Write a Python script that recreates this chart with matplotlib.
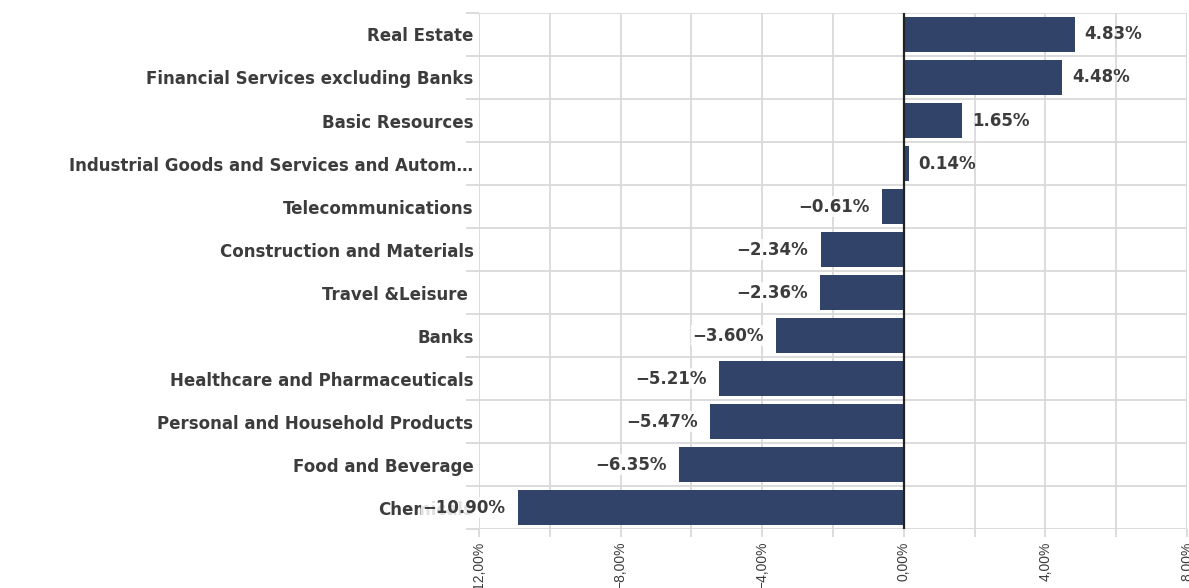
import numpy as np
import matplotlib.pyplot as plt
from matplotlib.ticker import FixedLocator, FuncFormatter

# sector returns, top to bottom
sectors = ['Real Estate', 'Financial Services excluding Banks', 'Basic Resources',
           'Industrial Goods and Services and Autom\u2026', 'Telecommunications',
           'Construction and Materials', 'Travel &Leisure ', 'Banks',
           'Healthcare and Pharmaceuticals', 'Personal and Household Products',
           'Food and Beverage', 'Chemicals']
returns = [4.83, 4.48, 1.65, 0.14, -0.61, -2.34, -2.36, -3.60, -5.21, -5.47, -6.35, -10.90]

bar_color = '#314368'
text_color = '#3c3c3c'
grid_color = '#d9d9d9'
label_size = 12

fig = plt.figure(figsize=(11.89, 5.88), dpi=100)
ax = fig.add_axes([0.4029, 0.1003, 0.5954, 0.8776])

y = np.arange(len(sectors))
ax.barh(y, returns, height=0.82, color=bar_color, zorder=3)

ax.set_xlim(-12, 8)
ax.set_ylim(len(sectors) - 0.5, -0.5)

# zero line
ax.axvline(0, color='#222222', lw=1.6, zorder=4)

# x axis: labels every 4%, grid every 2%
ax.xaxis.set_major_locator(FixedLocator([-12, -8, -4, 0, 4, 8]))
ax.xaxis.set_minor_locator(FixedLocator([-10, -6, -2, 2, 6]))
ax.xaxis.set_major_formatter(FuncFormatter(lambda v, p: ('%.2f%%' % v).replace('.', ',').replace('-', '\u2212')))
ax.tick_params(axis='x', which='both', length=6, width=1.3, color=grid_color,
               labelrotation=90, labelsize=10, labelcolor=text_color, pad=3)
for lbl in ax.get_xticklabels():
    lbl.set_family('Liberation Sans')
ax.grid(axis='x', which='both', color=grid_color, lw=1.3, zorder=0)

# y axis: category labels at centres, grid on band boundaries
ax.set_yticks(y)
ax.set_yticklabels(sectors, fontsize=label_size, fontweight='bold', color=text_color)
ax.yaxis.set_minor_locator(FixedLocator(np.arange(-0.5, len(sectors), 1.0)))
ax.tick_params(axis='y', which='major', length=0, pad=4)
ax.tick_params(axis='y', which='minor', length=9.5, width=1.3, color=grid_color)
ax.grid(axis='y', which='minor', color=grid_color, lw=1.3, zorder=0)

for s in ax.spines.values():
    s.set_visible(False)

# value labels
for yi, v in zip(y, returns):
    txt = ('%.2f%%' % v).replace('-', '\u2212')
    if v >= 0:
        ax.annotate(txt, (v, yi), xytext=(7, 0), textcoords='offset points',
                    ha='left', va='center', fontsize=label_size, fontweight='bold',
                    color=text_color, zorder=5, annotation_clip=False)
    else:
        ax.annotate(txt, (v, yi), xytext=(-9, 0), textcoords='offset points',
                    ha='right', va='center', fontsize=label_size, fontweight='bold',
                    color=text_color, zorder=5, annotation_clip=False,
                    bbox=dict(boxstyle='square,pad=0.1', fc='white', ec='none', alpha=0.85))

fig.savefig('out.png', dpi=100)
